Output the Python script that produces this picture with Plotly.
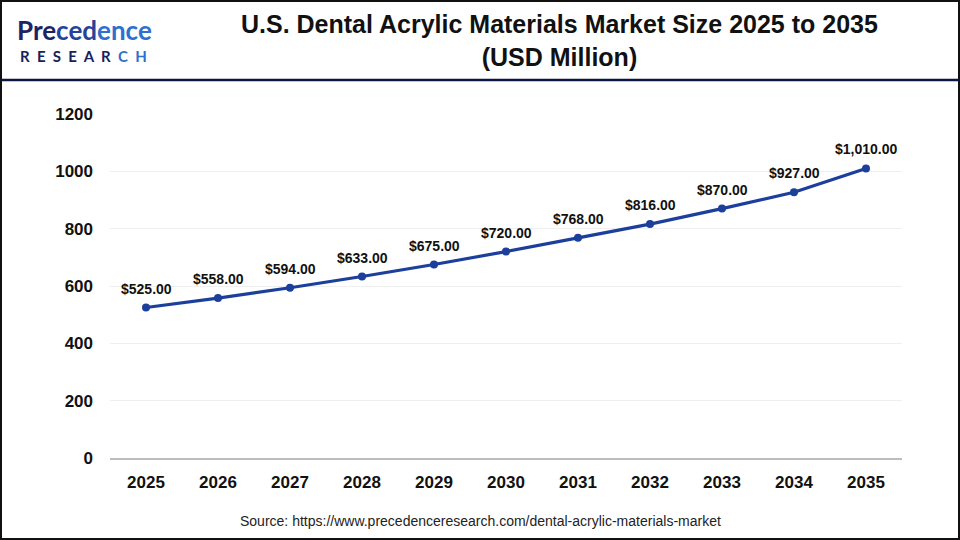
import plotly.graph_objects as go

years = ["2025", "2026", "2027", "2028", "2029", "2030", "2031", "2032", "2033", "2034", "2035"]
values = [525.00, 558.00, 594.00, 633.00, 675.00, 720.00, 768.00, 816.00, 870.00, 927.00, 1010.00]
labels = ["$525.00", "$558.00", "$594.00", "$633.00", "$675.00", "$720.00", "$768.00",
          "$816.00", "$870.00", "$927.00", "$1,010.00"]
y_ticks = [0, 200, 400, 600, 800, 1000, 1200]

W, H = 960, 540
ML, MR, MT, MB = 110, 58, 114, 82
PW, PH = W - ML - MR, H - MT - MB

def px(x):
    return (x - ML) / PW

def py(y):
    return (H - MB - y) / PH

fig = go.Figure()
fig.add_trace(go.Scatter(
    x=years, y=values, mode="lines+markers",
    line=dict(color="#1c3f9c", width=3.2),
    marker=dict(color="#1c3f9c", size=8),
    cliponaxis=False, hoverinfo="skip", showlegend=False,
))

shapes = [
    dict(type="rect", xref="paper", yref="paper", x0=px(1), x1=px(W - 1), y0=py(H - 1), y1=py(1),
         line=dict(color="#111111", width=2), layer="above"),
    dict(type="line", xref="paper", yref="paper", x0=px(1), x1=px(W - 1), y0=py(80), y1=py(80),
         line=dict(color="#0d1640", width=2.5)),
]

annotations = []
for i, (v, lab) in enumerate(zip(values, labels)):
    annotations.append(dict(
        xref="x", yref="y", x=i, y=v, text="<b>" + lab + "</b>", showarrow=False, yshift=19,
        xanchor="center", yanchor="middle",
        font=dict(family="Arial, Liberation Sans, sans-serif", size=14, color="#111111")))

sp = "&nbsp;&nbsp;"
annotations += [
    dict(text="<b>U.S. Dental Acrylic Materials Market Size 2025 to 2035<br>(USD Million)</b>",
         xref="paper", yref="paper", x=px(559), y=py(40), xanchor="center", yanchor="middle",
         showarrow=False, align="center",
         font=dict(family="Liberation Sans Narrow, Arial Narrow, sans-serif", size=25, color="#111111")),
    dict(text="Source: https://www.precedenceresearch.com/dental-acrylic-materials-market",
         xref="paper", yref="paper", x=px(480), y=py(521), xanchor="center", yanchor="middle",
         showarrow=False, font=dict(family="Arial, Liberation Sans, sans-serif", size=14, color="#222222")),
    dict(text="<b><span style='color:#1b2566'>Pre</span><span style='color:#24449a'>ced</span>"
              "<span style='color:#2f6fd0'>ence</span></b>",
         xref="paper", yref="paper", x=px(16), y=py(30),
         xanchor="left", yanchor="middle", showarrow=False, borderpad=0,
         font=dict(family="Lato, Noto Sans, sans-serif", size=26, color="#1f3f8f")),
    dict(text="<b>" + sp.join(["R", "E", "S", "E", "A", "R"]) + sp
              + "<span style='color:#2f6fd0'>C" + sp + "H</span></b>",
         xref="paper", yref="paper", x=px(19), y=py(56),
         xanchor="left", yanchor="middle", showarrow=False, borderpad=0,
         font=dict(family="Lato, Noto Sans, sans-serif", size=15, color="#17215a")),
]

fig.update_layout(
    width=W, height=H,
    margin=dict(l=ML, r=MR, t=MT, b=MB),
    paper_bgcolor="white", plot_bgcolor="white",
    shapes=shapes, annotations=annotations,
    xaxis=dict(type="category", range=[-0.5, 10.5], showgrid=False, ticks="", showline=True,
               linecolor="#bdbdbd", linewidth=2, ticklabelstandoff=8,
               tickfont=dict(family="Arial, Liberation Sans, sans-serif", size=17, color="#111111", weight="bold"),
               fixedrange=True),
    yaxis=dict(range=[0, 1200], tickvals=y_ticks, showgrid=True, gridcolor="#efefef", gridwidth=1,
               zeroline=False, ticks="", ticklabelstandoff=16,
               tickfont=dict(family="Arial, Liberation Sans, sans-serif", size=17, color="#111111", weight="bold"),
               fixedrange=True),
)

fig.write_html("out.html", config={"displayModeBar": False},
               post_script="document.body.style.margin='0';")
